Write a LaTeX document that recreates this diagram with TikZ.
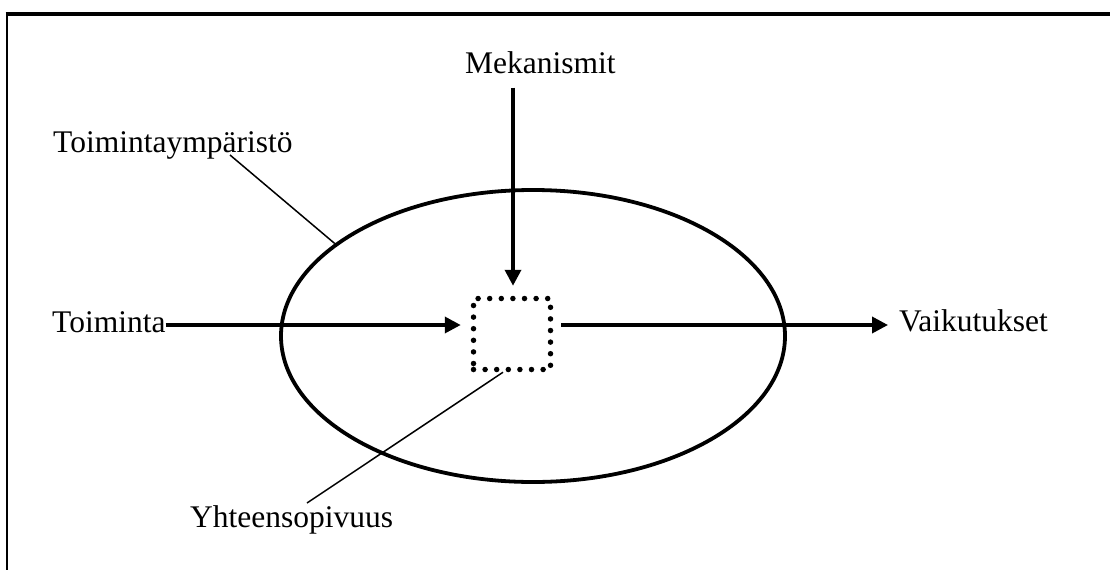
\documentclass[tikz,border=0pt]{standalone}
\usepackage{fontspec}
\setmainfont{Liberation Serif}
\usetikzlibrary{shapes.geometric,arrows.meta}
\begin{document}
\begin{tikzpicture}[x=1pt,y=-1pt,
  lbl/.style={anchor=base west,inner sep=0pt,font=\fontsize{31.5}{36}\selectfont},
  arr/.style={line width=3.6pt,-{Triangle[length=16pt,width=16pt]}},
  leader/.style={line width=1.5pt},
  frameline/.style={line width=4pt}]
\useasboundingbox (0,0) rectangle (1110,570);
% frame (top and left only)
\draw[frameline] (5.5,14) -- (1110,14);
\draw[line width=2.5pt] (7,12) -- (7,570);
% environment ellipse
\node[draw,ellipse,line width=3.8pt,minimum width=504pt,minimum height=292pt,inner sep=0pt] (env) at (533,336) {};
% compatibility box
\node[draw,line width=5.5pt,line cap=round,dash pattern=on 0pt off 11.6pt,minimum width=77pt,minimum height=71pt,inner sep=0pt] (fit) at (512,334) {};
% labels
\node[lbl] (mek) at (465,73) {Mekanismit};
\node[lbl] (tye) at (53,152) {Toimintaympäristö};
\node[lbl] (toim) at (52,332) {Toiminta};
\node[lbl] (vaik) at (899,331) {Vaikutukset};
\node[lbl] (yht) at (190,527) {Yhteensopivuus};
\coordinate (yend) at (307,503);
% arrows
\draw[arr] ([yshift=7pt]toim.base east) -- ([xshift=-10pt,yshift=9pt]fit.west);
\draw[arr] ([xshift=8pt,yshift=9pt]fit.east) -- ([xshift=-11pt,yshift=6pt]vaik.base west);
\draw[arr] ([xshift=1pt,yshift=-14pt]mek.south -| fit.north) -- ([xshift=1pt,yshift=10pt]fit.north);
% leaders
\draw[leader] ([xshift=177pt,yshift=-3pt]tye.base west) -- (env.155);
\draw[leader] ([xshift=-9pt]fit.south) -- (yend);
\end{tikzpicture}
\end{document}
